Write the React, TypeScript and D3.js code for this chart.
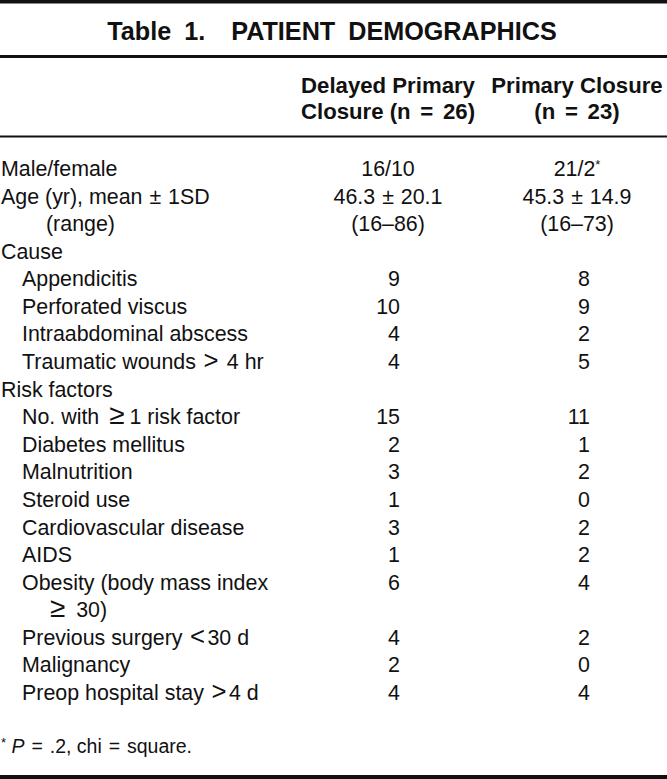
import React from "react";
import * as d3 from "d3";

const titleText = "Table 1.  PATIENT DEMOGRAPHICS";
const headerCol1 = ["Delayed Primary", "Closure (n = 26)"];
const headerCol2 = ["Primary Closure", "(n = 23)"];

const rowLabels = [
  "Male/female",
  "Age (yr), mean \u00b1 1SD",
  "(range)",
  "Cause",
  "Appendicitis",
  "Perforated viscus",
  "Intraabdominal abscess",
  "Traumatic wounds > 4 hr",
  "Risk factors",
  "No. with \u22651 risk factor",
  "Diabetes mellitus",
  "Malnutrition",
  "Steroid use",
  "Cardiovascular disease",
  "AIDS",
  "Obesity (body mass index",
  "\u2265 30)",
  "Previous surgery <30 d",
  "Malignancy",
  "Preop hospital stay >4 d",
];
const rowIndent = [0, 0, 2, 0, 1, 1, 1, 1, 0, 1, 1, 1, 1, 1, 1, 1, 2, 1, 1, 1];
const delayedValues = ["16/10", "46.3 \u00b1 20.1", "(16\u201386)", "", "9", "10", "4", "4", "", "15", "2", "3", "1", "3", "1", "6", "", "4", "2", "4"];
const primaryValues = ["21/2", "45.3 \u00b1 14.9", "(16\u201373)", "", "8", "9", "2", "5", "", "11", "1", "2", "0", "2", "2", "4", "", "2", "0", "4"];
const primaryMarks = ["*", "", "", "", "", "", "", "", "", "", "", "", "", "", "", "", "", "", "", ""];
const centeredRows = [0, 1, 2];
const footnote = { mark: "*", italic: "P", rest: " = .2, chi = square." };

const W = 667;
const H = 779;
const font = "'Liberation Sans', Arial, Helvetica, sans-serif";

// [dx before, dx after, glyph scale] for math symbols, as in the typeset original
const bodySym: Record<string, [number, number, number]> = {
  ">": [1.5, 2.5, 1.2],
  "<": [1.5, 2.5, 1.2],
  "\u2265": [4, 5, 1.3],
  "\u00b1": [1, 1, 1],
  "=": [1.5, 1.5, 1],
};
const headSym: Record<string, [number, number, number]> = { "=": [3.5, 3.5, 1] };

function spaced(text: string, sym: Record<string, [number, number, number]>, fs: number) {
  const parts: React.ReactNode[] = [];
  let buf = "";
  let pendingDx = 0;
  let k = 0;
  const flush = () => {
    if (buf !== "" || pendingDx) {
      parts.push(
        <tspan key={k++} dx={pendingDx || undefined}>
          {buf}
        </tspan>
      );
    }
    buf = "";
    pendingDx = 0;
  };
  for (const ch of text) {
    const s = sym[ch];
    if (s) {
      flush();
      parts.push(
        <tspan key={k++} dx={s[0]} fontSize={s[2] !== 1 ? fs * s[2] : undefined}>
          {ch}
        </tspan>
      );
      pendingDx = s[1];
    } else {
      buf += ch;
    }
  }
  flush();
  return parts;
}

export default function App() {
  const y = d3.scaleLinear().domain([0, rowLabels.length - 1]).range([176, 700]);
  const indentX = d3.scaleOrdinal<number, number>().domain([0, 1, 2]).range([1, 22, 46]);
  const col = { c1Center: 388, c2Center: 577, c1Right: 400, c2Right: 590 };
  const fs = 21.4;
  const hfs = 22.2;

  return (
    <svg
      width={W}
      height={H}
      viewBox={`0 0 ${W} ${H}`}
      style={{ position: "absolute", left: 0, top: 0, background: "#fff" }}
      fontFamily={font}
    >
      <rect x={0} y={0} width={W} height={H} fill="#fff" />
      <rect x={0} y={0} width={W} height={3.5} fill="#111" />
      <text
        x={332}
        y={40}
        textAnchor="middle"
        fontSize={25.2}
        fontWeight="bold"
        fill="#111"
        style={{ whiteSpace: "pre", wordSpacing: "6px" }}
      >
        {titleText}
      </text>
      <rect x={0} y={55} width={W} height={3} fill="#111" />

      {headerCol1.map((t, i) => (
        <text key={"h1" + i} x={col.c1Center} y={93 + i * 26} textAnchor="middle" fontSize={hfs} fontWeight="bold" fill="#111">
          {spaced(t, headSym, hfs)}
        </text>
      ))}
      {headerCol2.map((t, i) => (
        <text key={"h2" + i} x={col.c2Center} y={93 + i * 26} textAnchor="middle" fontSize={hfs} fontWeight="bold" fill="#111">
          {spaced(t, headSym, hfs)}
        </text>
      ))}
      <rect x={0} y={135.5} width={W} height={2} fill="#111" />

      {rowLabels.map((lab, i) => {
        const centered = centeredRows.includes(i);
        return (
          <g key={"r" + i} fontSize={fs} fill="#111">
            <text x={indentX(rowIndent[i])} y={y(i)}>{spaced(lab, bodySym, fs)}</text>
            {delayedValues[i] !== "" && (
              <text x={centered ? col.c1Center : col.c1Right} y={y(i)} textAnchor={centered ? "middle" : "end"}>
                {spaced(delayedValues[i], bodySym, fs)}
              </text>
            )}
            {primaryValues[i] !== "" && (
              <text x={centered ? col.c2Center : col.c2Right} y={y(i)} textAnchor={centered ? "middle" : "end"}>
                {spaced(primaryValues[i], bodySym, fs)}
                {primaryMarks[i] && (
                  <tspan fontSize={13} dy={-7}>{primaryMarks[i]}</tspan>
                )}
              </text>
            )}
          </g>
        );
      })}

      <text x={1} y={753} fontSize={19.5} fill="#111">
        <tspan fontSize={13} dy={-6}>{footnote.mark}</tspan>
        <tspan dy={6}> </tspan>
        <tspan fontStyle="italic">{footnote.italic}</tspan>
        {spaced(footnote.rest, bodySym, 19.5)}
      </text>
      <rect x={0} y={775} width={W} height={4} fill="#111" />
    </svg>
  );
}
